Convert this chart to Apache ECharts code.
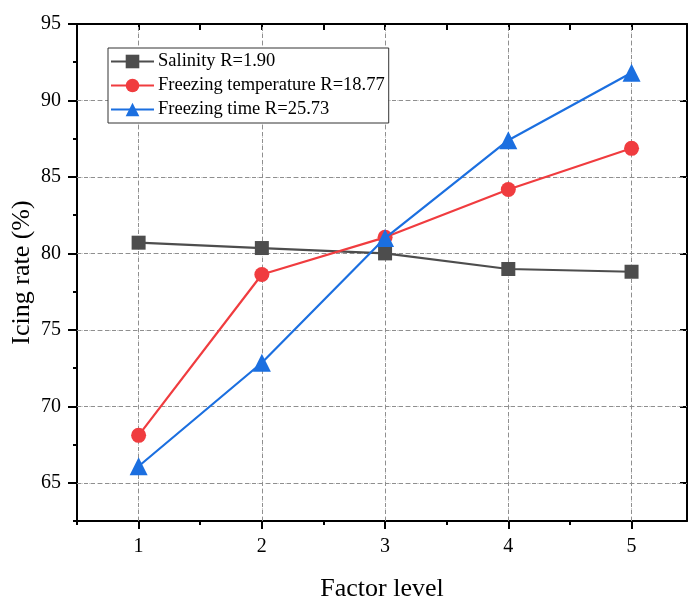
<!DOCTYPE html>
<html>
<head>
<meta charset="utf-8">
<script src="https://cdn.jsdelivr.net/npm/echarts@6/dist/echarts.min.js"></script>
<style>
  html, body { margin: 0; padding: 0; background: #fff; }
  #chart { width: 688px; height: 597px; }
</style>
</head>
<body>
<div id="chart"></div>
<script>
// Factor levels and the icing rate (%)
const levels = [1, 2, 3, 4, 5];
const salinity = [80.70, 80.35, 80.00, 78.98, 78.80];
const freezingTemp = [68.10, 78.62, 81.05, 84.18, 86.87];
const freezingTime = [66.08, 72.85, 81.00, 87.40, 91.81];

const seriesNames = ['Salinity R=1.90', 'Freezing temperature R=18.77', 'Freezing time R=25.73'];

// tick labels
const yMajorTicks = [65, 70, 75, 80, 85, 90, 95];
const yMinorTicks = [62.5, 67.5, 72.5, 77.5, 82.5, 87.5, 92.5];
const xMajorTicks = [1, 2, 3, 4, 5];
const xMinorTicks = [0.5, 1.5, 2.5, 3.5, 4.5];

const font = "'Liberation Serif', 'Times New Roman', serif";
const colors = ['#4d4d4d', '#f03c3f', '#1b6fe0'];

const pairs = vals => levels.map((x, i) => [x, vals[i]]);

const chart = echarts.init(document.getElementById('chart'));

const minorGrid = { show: true, lineStyle: { color: '#d0d0d0', type: [2, 2], width: 1 } };
const axisLine = { show: true, onZero: false, lineStyle: { color: '#000', width: 2 } };
const tickStyle = { width: 2, color: '#000' };

// darker dashed grid lines at the labelled ticks
const majorGridLines = xMajorTicks.map(v => ({ xAxis: v }))
  .concat(yMajorTicks.slice(0, -1).map(v => ({ yAxis: v })));

chart.setOption({
  animation: false,
  backgroundColor: '#fff',
  grid: { left: 77, right: 1, top: 24, bottom: 76, outerBoundsMode: 'none', containLabel: false },
  legend: {
    z: 20,
    orient: 'vertical',
    left: 108,
    top: 48,
    itemWidth: 43,
    itemHeight: 17,
    itemGap: 5,
    padding: [4, 4, 4, 2],
    borderColor: '#333',
    borderWidth: 1,
    backgroundColor: '#fff',
    textStyle: { fontFamily: font, fontSize: 18.5, color: '#000', padding: [0, 0, 0, -1] },
    data: seriesNames
  },
  xAxis: [
    {
      type: 'value', min: 0.5, max: 5.45, interval: 0.5,
      name: 'Factor level', nameLocation: 'middle', nameGap: 55, nameMoveOverlap: false,
      nameTextStyle: { fontFamily: font, fontSize: 26, color: '#000' },
      axisLine: axisLine,
      axisTick: { show: true, length: 8, customValues: xMajorTicks, lineStyle: tickStyle },
      axisLabel: { customValues: xMajorTicks, margin: 16, fontFamily: font, fontSize: 20, color: '#000' },
      splitLine: minorGrid
    },
    {
      type: 'value', min: 0.5, max: 5.45, position: 'bottom',
      axisLine: { show: false },
      axisTick: { show: true, length: 4, customValues: xMinorTicks, lineStyle: tickStyle },
      axisLabel: { show: false }, splitLine: { show: false }
    },
    {
      type: 'value', min: 0.5, max: 5.45, position: 'top',
      axisLine: axisLine,
      axisTick: { show: true, inside: true, length: 6, customValues: xMajorTicks.concat(xMinorTicks), lineStyle: tickStyle },
      axisLabel: { show: false }, splitLine: { show: false }
    }
  ],
  yAxis: [
    {
      type: 'value', min: 62.5, max: 95, interval: 2.5,
      name: 'Icing rate (%)', nameLocation: 'middle', nameGap: 42, nameMoveOverlap: false,
      nameTextStyle: { fontFamily: font, fontSize: 26, color: '#000' },
      axisLine: axisLine,
      axisTick: { show: true, length: 9, customValues: yMajorTicks, lineStyle: tickStyle },
      axisLabel: { customValues: yMajorTicks, margin: 16, fontFamily: font, fontSize: 20, color: '#000' },
      splitLine: minorGrid
    },
    {
      type: 'value', min: 62.5, max: 95, position: 'left',
      axisLine: { show: false },
      axisTick: { show: true, length: 4, customValues: yMinorTicks, lineStyle: tickStyle },
      axisLabel: { show: false }, splitLine: { show: false }
    },
    {
      type: 'value', min: 62.5, max: 95, position: 'right',
      axisLine: axisLine,
      axisTick: { show: true, inside: true, length: 7, customValues: yMajorTicks, lineStyle: tickStyle },
      axisLabel: { show: false }, splitLine: { show: false }
    }
  ],
  series: [
    { name: 'grid', type: 'line', data: [], z: 1, silent: true,
      markLine: { silent: true, symbol: 'none', label: { show: false }, z: 1,
        lineStyle: { color: '#8f8f8f', type: [4, 3], width: 1 }, data: majorGridLines } },
    { name: seriesNames[0], type: 'line', data: pairs(salinity), symbol: 'rect', symbolSize: 14,
      color: colors[0], lineStyle: { width: 2.2 }, z: 3 },
    { name: seriesNames[1], type: 'line', data: pairs(freezingTemp), symbol: 'circle', symbolSize: 15,
      color: colors[1], lineStyle: { width: 2.2 }, z: 4 },
    { name: seriesNames[2], type: 'line', data: pairs(freezingTime), symbol: 'triangle', symbolSize: 18,
      color: colors[2], lineStyle: { width: 2.2 }, z: 5 }
  ]
});
</script>
</body>
</html>
